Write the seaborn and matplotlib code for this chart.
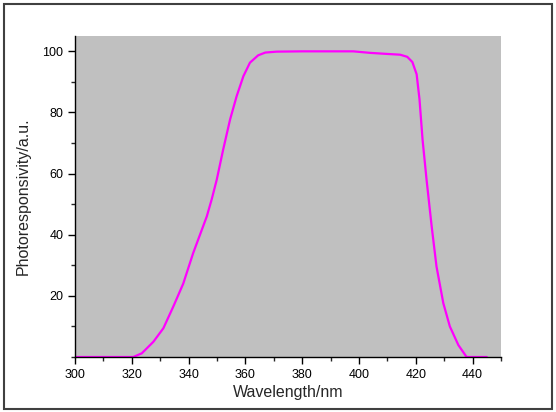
import numpy as np
import pandas as pd
import matplotlib
matplotlib.use('Agg')
import matplotlib.pyplot as plt
from matplotlib.patches import Rectangle
from matplotlib.ticker import MultipleLocator, FixedLocator
import seaborn as sns

# 光谱响应数据
wavelength = [300, 310, 318, 320.5, 323.5, 327.6, 331.1, 334.6, 338.1, 341.6, 346.4,
              348.1, 349.9, 352.2, 354.6, 356.9, 359.3, 361.6, 364.5, 367, 371,
              380, 390, 398, 403.9, 409, 414.5, 417, 418.8, 420.3, 421.3, 422.4, 423.8,
              425.6, 427.3, 429.7, 432, 435, 437.9, 441, 445]
response = [0, 0, 0, 0, 1.2, 5, 9.4, 16.5, 24, 34, 46,
            51.5, 58, 68, 77.7, 85.3, 91.9, 96.3, 98.7, 99.6, 99.9,
            100, 100, 100, 99.5, 99.2, 98.9, 98.2, 96.5, 92.5, 84.4, 71, 58,
            42.7, 29.6, 17.6, 10, 3.9, 0, 0, 0]
xticks = [300, 320, 340, 360, 380, 400, 420, 440]
yticks = [20, 40, 60, 80, 100]

df = pd.DataFrame({'wavelength': wavelength, 'response': response})

sns.set_style("ticks")
plt.rcParams['font.family'] = ['Liberation Sans', 'DejaVu Sans']

fig = plt.figure(figsize=(5.56, 4.12), dpi=100)
fig.patches.append(Rectangle((0.007, 0.007), 0.986, 0.984, transform=fig.transFigure,
                             fill=False, edgecolor='#404040', linewidth=1.5))
ax = fig.add_axes([0.135, 0.1335, 0.766, 0.779])
ax.set_facecolor('#C0C0C0')

sns.lineplot(data=df, x='wavelength', y='response', sort=False, color='#FF00FF',
             linewidth=1.6, ax=ax)

ax.set_xlim(300, 450)
ax.set_ylim(0, 105)
ax.xaxis.set_major_locator(FixedLocator(xticks))
ax.xaxis.set_minor_locator(MultipleLocator(10))
ax.yaxis.set_major_locator(FixedLocator(yticks))
ax.yaxis.set_minor_locator(MultipleLocator(10))
ax.tick_params(which='major', direction='out', length=5, width=1, labelsize=9, colors='black')
ax.tick_params(which='minor', direction='out', length=3, width=1)

for side in ['top', 'right']:
    ax.spines[side].set_visible(False)
for side in ['left', 'bottom']:
    ax.spines[side].set_color('black')
    ax.spines[side].set_linewidth(1)

ax.set_xlabel('Wavelength/nm', fontsize=11.5, labelpad=3)
ax.set_ylabel('Photoresponsivity/a.u.', fontsize=11.5, labelpad=8)

fig.savefig('out.png', dpi=100)
